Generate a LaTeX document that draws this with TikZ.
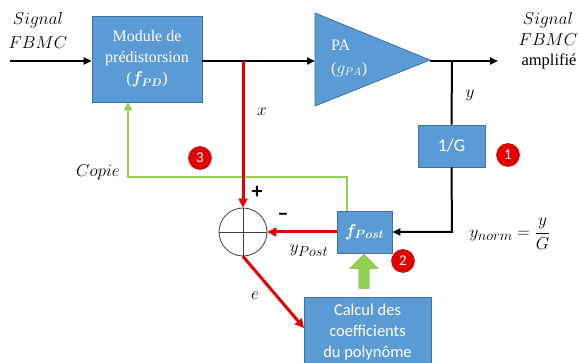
\documentclass[tikz,border=0pt]{standalone}
\usepackage{amsmath}
\usepackage{fontspec}
\usepackage{bm}
\newfontfamily\calib{Carlito}
\newfontfamily\tserif{Liberation Serif}
\usetikzlibrary{arrows.meta,shapes.arrows}
\definecolor{bfill}{RGB}{91,155,213}
\definecolor{bdraw}{RGB}{65,113,156}
\definecolor{gline}{RGB}{146,208,80}
\definecolor{rline}{RGB}{228,0,0}
\tikzset{
  bluebox/.style={draw=bdraw,fill=bfill,line width=0.8pt,text=white,inner sep=0pt,align=center},
  blk/.style={line width=2pt,black,-{Triangle[length=8pt,width=7pt]}},
  blkline/.style={line width=2pt,black},
  redarr/.style={line width=3pt,rline,-{Triangle[length=9pt,width=9pt]}},
  grnarr/.style={line width=2.5pt,gline,-{Triangle[length=8pt,width=8pt]}},
  numdot/.style={circle,fill=rline,draw=red!70!black,line width=0.5pt,minimum size=23pt,inner sep=0pt,text=white,font=\calib\fontsize{15}{15}\selectfont},
  lbl/.style={inner sep=1pt,font=\fontsize{19}{19}\selectfont}
}
\begin{document}
\begin{tikzpicture}[x=1pt,y=-1pt]
\useasboundingbox (0,0) rectangle (579,363);
% nodes
\node[bluebox,minimum width=110pt,minimum height=86pt,font=\tserif\fontsize{16}{21}\selectfont] (mod) at (147,59) {Module de\\pr\'edistorsion\\($\bm{f_{PD}}$)};
\fill[bfill,draw=bdraw,line width=0.8pt] (315,13) -- (430,60) -- (315,106) -- cycle;
\coordinate (pain) at (315,61);
\coordinate (paout) at (430,61);
\node[text=white,align=left,font=\tserif\fontsize{16}{23}\selectfont,anchor=west,inner sep=0pt] (patext) at (331,58) {PA\\($g_{PA}$)};
\node[bluebox,minimum width=67pt,minimum height=42pt,font=\calib\fontsize{18}{18}\selectfont] (inv) at (451.5,146) {1/G};
\node[bluebox,minimum width=55pt,minimum height=42pt,font=\fontsize{17}{17}\selectfont] (fpost) at (364.5,232) {$\bm{f_{Post}}$};
\node[bluebox,minimum width=127pt,minimum height=70pt,font=\calib\fontsize{16.5}{21}\selectfont] (calc) at (367.5,332) {Calcul des\\coefficients\\du polyn\^ome};
\node[circle,draw=black!75,line width=0.8pt,minimum size=48pt,inner sep=0pt] (sum) at (243,232) {};
\draw[black!75,line width=0.6pt] (sum.north) -- (sum.south) (sum.west) -- (sum.east);
% text
\node[lbl] (sigin1) at (38,20) {$Signal$};
\node[lbl] (sigin2) at (38,43) {$FBMC$};
\node[lbl] (sigout1) at (548,20) {$Signal$};
\node[lbl] (sigout2) at (548,40) {$FBMC$};
\node[inner sep=0pt,font=\tserif\fontsize{16.5}{16.5}\selectfont] (sigout3) at (549,61) {amplifi\'e};
\coordinate (inL) at (10,61);
\coordinate (outR) at (498,61);
\coordinate (brx) at (243,61);
\coordinate (bry) at (452,61);
\coordinate (c1) at (452,232);
\coordinate (g1) at (347,177);
\coordinate (g2) at (128,177);
\coordinate (eend) at (304,328);
% connectors
\draw[blk] (inL) -- (mod.west |- inL);
\draw[blk] (mod.east |- pain) -- (pain);
\draw[blk] (paout) -- (outR);
\draw[blkline] (bry) -- (inv.north);
\draw[blk] (inv.south) -- (c1) -- (fpost.east);
\draw[grnarr] (fpost.north -| g1) -- (g1) -- (g2) -- (g2 |- mod.south);
\draw[redarr] (brx) -- (sum.north);
\draw[redarr] (fpost.west) -- (sum.east);
\draw[redarr] (sum.south) -- (eend);
\node[single arrow,fill=gline,draw=gline!80!black,line width=0.4pt,shape border rotate=90,minimum width=28pt,single arrow head extend=7pt,single arrow tip angle=90,minimum height=34pt,inner sep=4pt] (garr) at (364,274) {};
% labels
\node[lbl] (lx) at (262,112) {$x$};
\node[lbl] (ly) at (470,95) {$y$};
\node[lbl] (lcop) at (98,172) {$Copie$};
\node[lbl] (le) at (255,296) {$e$};
\node[lbl] (lyp) at (309,251) {$y_{Post}$};
\node[lbl] (lyn) at (510,234) {$y_{norm}=\dfrac{y}{G}$};
\node[font=\calib\bfseries\fontsize{22}{22}\selectfont,inner sep=0pt] (plus) at (257,192) {+};
\node[font=\calib\bfseries\fontsize{22}{22}\selectfont,inner sep=0pt] (minus) at (283,217) {–};
\node[numdot] (n1) at (508,155) {1};
\node[numdot] (n2) at (403,261) {2};
\node[numdot] (n3) at (200,158) {3};
\end{tikzpicture}
\end{document}
